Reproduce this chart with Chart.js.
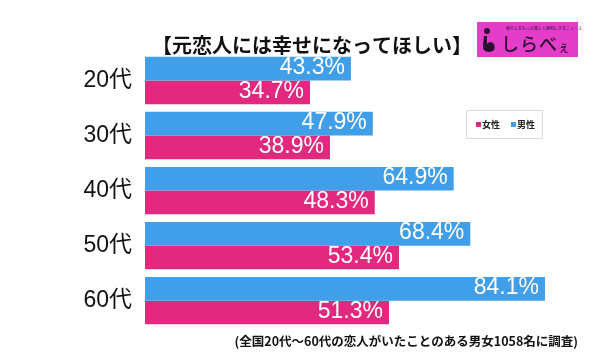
<!DOCTYPE html>
<html><head><meta charset="utf-8">
<script src="https://cdn.jsdelivr.net/npm/chart.js@4"></script>
<style>html,body{margin:0;padding:0;background:#fff}#wrap{width:600px;height:355px}</style>
</head><body><div id="wrap"><canvas id="c" width="600" height="355"></canvas></div>
<script>
const categories = ["20代", "30代", "40代", "50代", "60代"];
const maleValues = [43.3, 47.9, 64.9, 68.4, 84.1];
const femaleValues = [34.7, 38.9, 48.3, 53.4, 51.3];
const seriesNames = ["男性", "女性"];
const titleText = "【元恋人には幸せになってほしい】";
const noteText = "(全国20代〜60代の恋人がいたことのある男女1058名に調査)";
const logoMain = "しらべ";
const logoSmall = "ぇ";

const BLUE = "#419ee8", PINK = "#e2297f";
const LATIN = "'Liberation Sans', 'Noto Sans CJK JP', sans-serif";
const JP = "'Noto Sans CJK JP', sans-serif";

const decor = {
  id: "decor",
  afterDatasetsDraw(chart) {
    const ctx = chart.ctx;
    ctx.save();
    ctx.fillStyle = "#fff";
    ctx.font = "23px " + LATIN;
    ctx.textAlign = "right";
    ctx.textBaseline = "middle";
    chart.data.datasets.forEach((ds, di) => {
      chart.getDatasetMeta(di).data.forEach((el, i) => {
        ctx.fillText(ds.data[i].toFixed(1) + "%", el.x - 6, el.y - 1);
      });
    });
    ctx.restore();
  },
  afterDraw(chart) {
    const ctx = chart.ctx;
    ctx.save();
    ctx.fillStyle = "#111";
    ctx.font = "bold 20px " + JP;
    ctx.textAlign = "center";
    ctx.textBaseline = "middle";
    ctx.fillText(titleText, 312, 45);
    ctx.font = "bold 12.5px " + JP;
    ctx.textAlign = "right";
    ctx.fillText(noteText, 578, 341);
    // legend
    ctx.fillStyle = "#fff";
    ctx.fillRect(466, 110, 76, 28);
    ctx.strokeStyle = "#dcdcdc";
    ctx.lineWidth = 1;
    ctx.strokeRect(466.5, 110.5, 76, 28);
    const ds = chart.data.datasets;
    const items = [ds[1], ds[0]];
    let x = 476;
    ctx.font = "bold 9px " + JP;
    ctx.textAlign = "left";
    items.forEach(d => {
      ctx.fillStyle = d.backgroundColor;
      ctx.fillRect(x, 122, 5, 5);
      ctx.fillStyle = "#222";
      ctx.fillText(d.label, x + 6, 125);
      x += 35;
    });
    // logo
    ctx.fillStyle = "#e43dca";
    ctx.fillRect(477, 22, 101, 35);
    ctx.fillStyle = "#2b1030";
    ctx.beginPath(); ctx.arc(487, 31, 3, 0, Math.PI * 2); ctx.fill();
    ctx.beginPath();
    ctx.moveTo(484, 36); ctx.lineTo(487, 36); ctx.lineTo(487, 44);
    ctx.quadraticCurveTo(490, 40, 494, 44);
    ctx.quadraticCurveTo(497, 51, 489, 52);
    ctx.quadraticCurveTo(482, 52, 483, 45);
    ctx.closePath(); ctx.fill();
    ctx.font = "500 18px " + JP;
    ctx.textBaseline = "middle";
    let lx = 501;
    for (const ch of logoMain) { ctx.fillText(ch, lx, 44); lx += 19; }
    ctx.font = "500 12px " + JP;
    ctx.fillText(logoSmall, lx, 47);
    ctx.font = "4px " + JP;
    ctx.fillText("暮らしをもっと楽しく便利にするニュース", 506, 28);
    ctx.restore();
  }
};

new Chart(document.getElementById("c"), {
  type: "bar",
  data: {
    labels: categories,
    datasets: [
      { label: seriesNames[0], data: maleValues, backgroundColor: BLUE },
      { label: seriesNames[1], data: femaleValues, backgroundColor: PINK }
    ]
  },
  options: {
    indexAxis: "y",
    responsive: false,
    animation: false,
    devicePixelRatio: 1,
    layout: { padding: { top: 53, bottom: 23, left: 0, right: 0 } },
    datasets: { bar: { categoryPercentage: 0.861, barPercentage: 1.0 } },
    plugins: { legend: { display: false }, tooltip: { enabled: false } },
    scales: {
      x: { display: false, min: 0, max: 95.67 },
      y: {
        grid: { display: false, drawTicks: false },
        border: { display: false },
        ticks: { color: "#111", font: { size: 23, family: LATIN }, padding: 13 },
        afterFit(scale) { scale.width = 145; }
      }
    }
  },
  plugins: [decor]
});
</script></body></html>
